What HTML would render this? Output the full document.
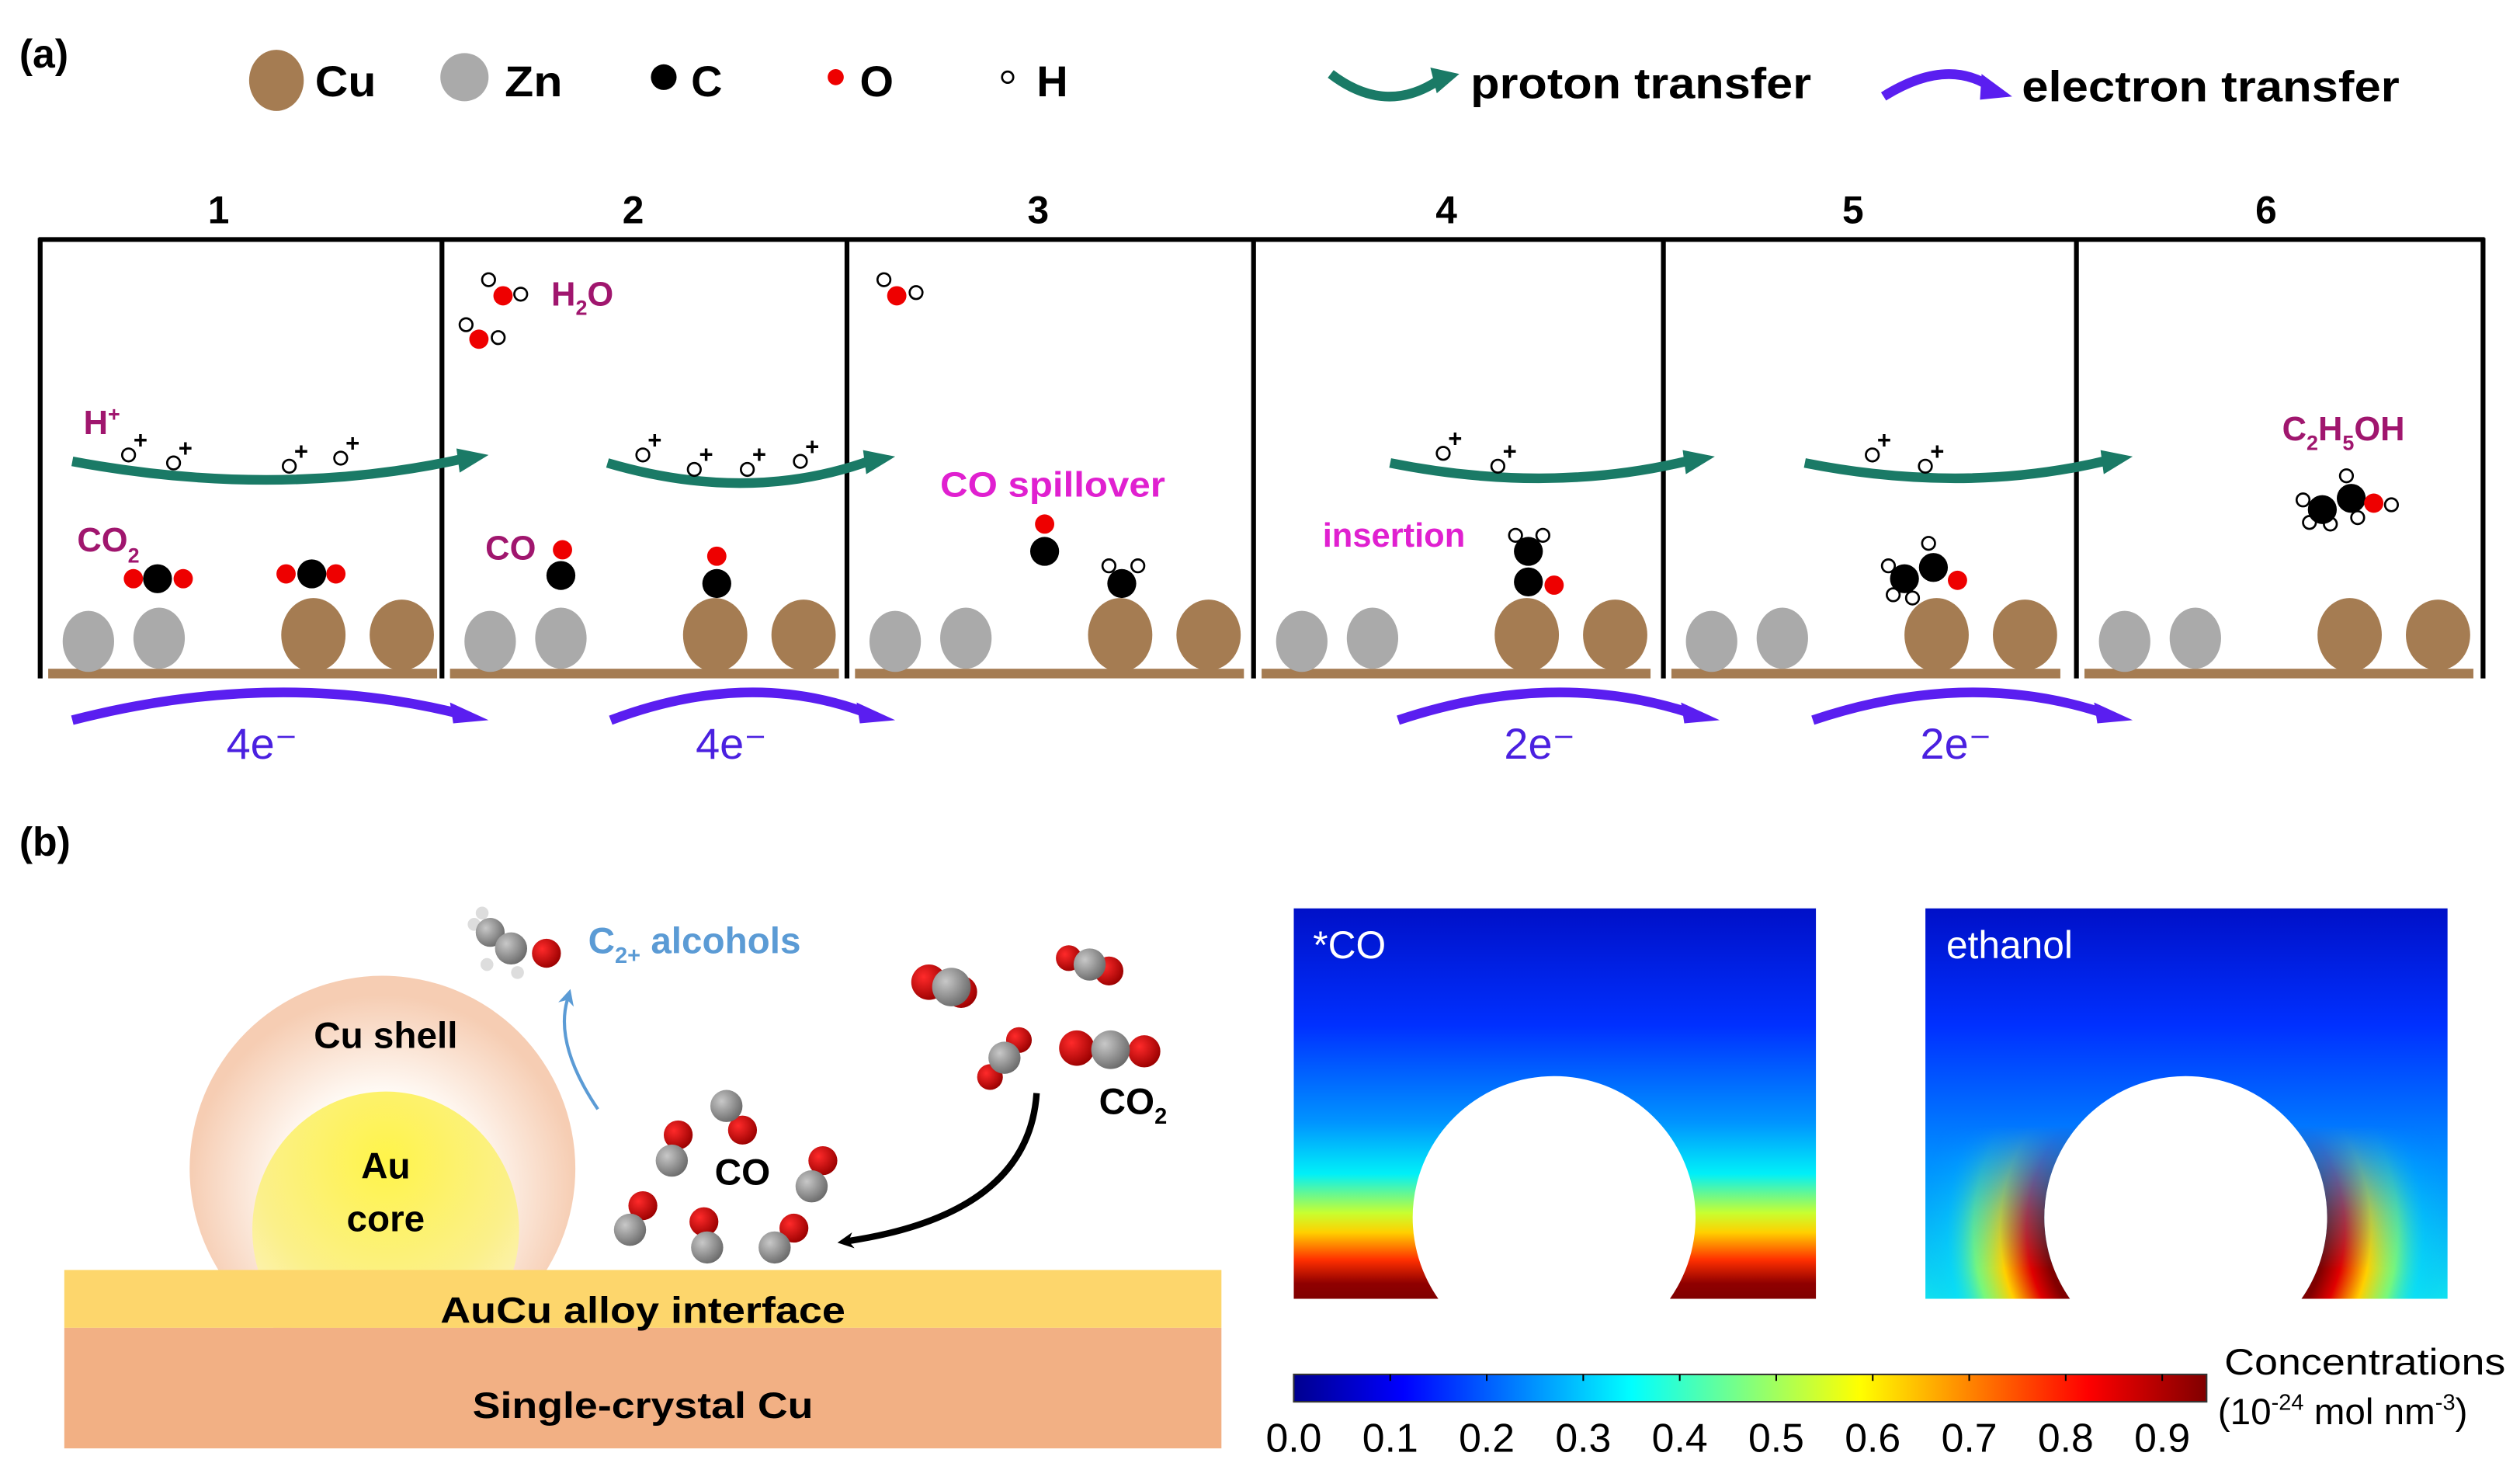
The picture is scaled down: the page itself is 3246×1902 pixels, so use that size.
<!DOCTYPE html>
<html><head><meta charset="utf-8"><style>
html,body{margin:0;padding:0;background:#fff;}
svg{display:block;}
text{font-family:"Liberation Sans",Arial,sans-serif;}
</style></head><body>
<svg id="fig" width="3246" height="1902" viewBox="0 0 1568 918.8" preserveAspectRatio="none" xmlns="http://www.w3.org/2000/svg">
<defs>
<linearGradient id="jet" x1="0" y1="0" x2="1" y2="0">
<stop offset="0" stop-color="#00008f"/><stop offset="0.12" stop-color="#0000ff"/><stop offset="0.37" stop-color="#00ffff"/><stop offset="0.62" stop-color="#ffff00"/><stop offset="0.87" stop-color="#ff0000"/><stop offset="1" stop-color="#800000"/>
</linearGradient>
<linearGradient id="coField" x1="0" y1="565" x2="0" y2="808" gradientUnits="userSpaceOnUse">
<stop offset="0" stop-color="#0010c8"/><stop offset="0.3" stop-color="#0030ff"/><stop offset="0.55" stop-color="#0095ff"/><stop offset="0.68" stop-color="#00f0f8"/><stop offset="0.78" stop-color="#c8ff30"/><stop offset="0.83" stop-color="#ffd000"/><stop offset="0.9" stop-color="#ff3000"/><stop offset="0.96" stop-color="#900000"/><stop offset="1" stop-color="#800000"/>
</linearGradient>
<linearGradient id="etField" x1="0" y1="565" x2="0" y2="808" gradientUnits="userSpaceOnUse">
<stop offset="0" stop-color="#0010c8"/><stop offset="0.3" stop-color="#0030ff"/><stop offset="0.65" stop-color="#0090ff"/><stop offset="1" stop-color="#10e0f0"/>
</linearGradient>
<radialGradient id="etRad" cx="1360" cy="765" r="165" gradientUnits="userSpaceOnUse">
<stop offset="0.53" stop-color="#800000"/><stop offset="0.6" stop-color="#e00000"/><stop offset="0.7" stop-color="#ffd000"/><stop offset="0.8" stop-color="#90ff60" stop-opacity="0.8"/><stop offset="0.9" stop-color="#00e0ff" stop-opacity="0.3"/><stop offset="1" stop-color="#00c0ff" stop-opacity="0"/>
</radialGradient>
<linearGradient id="etMaskG" x1="0" y1="700" x2="0" y2="790" gradientUnits="userSpaceOnUse">
<stop offset="0" stop-color="#000"/><stop offset="0.6" stop-color="#aaa"/><stop offset="1" stop-color="#fff"/>
</linearGradient>
<mask id="etMask"><rect x="1198" y="565" width="325" height="243" fill="url(#etMaskG)"/></mask>
<radialGradient id="shell" cx="0.5" cy="0.55" r="0.5">
<stop offset="0.5" stop-color="#fffaf5"/><stop offset="1" stop-color="#f6cdb3"/>
</radialGradient>
<radialGradient id="core" cx="0.5" cy="0.25" r="0.8">
<stop offset="0" stop-color="#fff44a"/><stop offset="0.6" stop-color="#fbf08a"/><stop offset="1" stop-color="#fdf3d0"/>
</radialGradient>
<radialGradient id="gC" cx="0.35" cy="0.35" r="0.7"><stop offset="0" stop-color="#c8c8c8"/><stop offset="1" stop-color="#6a6a6a"/></radialGradient>
<radialGradient id="gO" cx="0.35" cy="0.35" r="0.7"><stop offset="0" stop-color="#ff2a2a"/><stop offset="1" stop-color="#9a0000"/></radialGradient>
<marker id="blackHead" markerWidth="10" markerHeight="10" refX="3" refY="5" orient="auto" markerUnits="userSpaceOnUse"><path d="M0,0 L10,5 L0,10 L3,5 Z" fill="#000"/></marker>
<marker id="blueHead" markerWidth="10" markerHeight="10" refX="3" refY="5" orient="auto" markerUnits="userSpaceOnUse"><path d="M0,0 L10,5 L0,10 L3,5 Z" fill="#5b9bd5"/></marker>
<clipPath id="coClip"><path d="M805,565 H1130 V808 H1039 A88,88 0 1 0 895,808 H805 Z"/></clipPath>
<clipPath id="etClip"><path d="M1198,565 H1523 V808 H1432 A88,88 0 1 0 1288,808 H1198 Z"/></clipPath>
</defs>

<text x="12" y="42" font-size="25" font-weight="bold">(a)</text>
<g font-size="27" font-weight="bold">
<ellipse cx="172" cy="50" rx="17" ry="19" fill="#a57c52"/><text x="196" y="60" textLength="38" lengthAdjust="spacingAndGlyphs">Cu</text>
<circle cx="289" cy="48" r="15" fill="#aaaaaa"/><text x="314" y="60" textLength="36" lengthAdjust="spacingAndGlyphs">Zn</text>
<circle cx="413" cy="48" r="8" fill="#000"/><text x="430" y="60">C</text>
<circle cx="520" cy="48" r="5" fill="#e00"/><text x="535" y="60">O</text>
<circle cx="627" cy="48" r="3.5" fill="#fff" stroke="#000" stroke-width="1.3"/><text x="645" y="60">H</text>
<path d="M828,46 Q862,72 895,50" fill="none" stroke="#1a7a66" stroke-width="6"/><path d="M890,42 L908,46 L894,58 Z" fill="#1a7a66"/>
<text x="915" y="61" textLength="212" lengthAdjust="spacingAndGlyphs">proton transfer</text>
<path d="M1172,60 Q1212,35 1240,55" fill="none" stroke="#5a1ef0" stroke-width="6"/><path d="M1233,46 L1252,60 L1232,62 Z" fill="#5a1ef0"/>
<text x="1258" y="63" textLength="235" lengthAdjust="spacingAndGlyphs">electron transfer</text>
</g>
<g font-size="24" font-weight="bold" text-anchor="middle">
<text x="136" y="139">1</text><text x="394" y="139">2</text><text x="646" y="139">3</text><text x="900" y="139">4</text><text x="1153" y="139">5</text><text x="1410" y="139">6</text>
</g>
<g stroke="#000" stroke-width="3">
<line x1="24" y1="149" x2="1546" y2="149"/>
<line x1="25" y1="148" x2="25" y2="422"/><line x1="275" y1="148" x2="275" y2="422"/><line x1="527" y1="148" x2="527" y2="422"/><line x1="780" y1="148" x2="780" y2="422"/><line x1="1035" y1="148" x2="1035" y2="422"/><line x1="1292" y1="148" x2="1292" y2="422"/><line x1="1545" y1="148" x2="1545" y2="422"/>
</g>
<g id="surfaces"></g>

<g font-weight="bold">
<text x="52" y="270" font-size="21" fill="#a0166e">H<tspan font-size="13" dy="-8">+</tspan></text>
<text x="48" y="343" font-size="21" fill="#a0166e">CO<tspan font-size="13" dy="7">2</tspan></text>
<text x="343" y="190" font-size="21" fill="#a0166e">H<tspan font-size="13" dy="6">2</tspan><tspan dy="-6">O</tspan></text>
<text x="302" y="348" font-size="21" fill="#a0166e">CO</text>
<text x="585" y="309" font-size="22" fill="#e020d0" textLength="140" lengthAdjust="spacingAndGlyphs">CO spillover</text>
<text x="823" y="340" font-size="21" fill="#e020d0">insertion</text>
<text x="1420" y="274" font-size="21" fill="#a0166e">C<tspan font-size="13" dy="6">2</tspan><tspan dy="-6">H</tspan><tspan font-size="13" dy="6">5</tspan><tspan dy="-6">OH</tspan></text>
</g>
<g font-size="27" fill="#4a20e0" text-anchor="middle">
<text x="163" y="472">4e⁻</text><text x="455" y="472">4e⁻</text><text x="958" y="472">2e⁻</text><text x="1217" y="472">2e⁻</text>
</g>
<g id="molecules"></g>

<text x="12" y="532" font-size="25" font-weight="bold">(b)</text>
<circle cx="238" cy="727" r="120" fill="url(#shell)"/>
<ellipse cx="240" cy="765" rx="83" ry="86" fill="url(#core)"/>
<rect x="40" y="790" width="720" height="36" fill="#fdd66c"/>
<rect x="40" y="826" width="720" height="75" fill="#f2b084"/>
<g font-size="23" font-weight="bold" text-anchor="middle">
<text x="240" y="652">Cu shell</text><text x="240" y="733">Au</text><text x="240" y="766">core</text>
<text x="400" y="823" textLength="252" lengthAdjust="spacingAndGlyphs">AuCu alloy interface</text><text x="400" y="882" textLength="212" lengthAdjust="spacingAndGlyphs">Single-crystal Cu</text>
<text x="462" y="737">CO</text>
<text x="705" y="693">CO<tspan font-size="14" dy="6">2</tspan></text>
</g>
<text x="366" y="593" font-size="23" font-weight="bold" fill="#5b9bd5">C<tspan font-size="14" dy="6">2+</tspan><tspan dy="-6"> alcohols</tspan></text>
<path d="M372,690 Q345,650 353,622" fill="none" stroke="#5b9bd5" stroke-width="2" marker-end="url(#blueHead)"/>
<path d="M645,680 Q640,755 528,772" fill="none" stroke="#000" stroke-width="4" marker-end="url(#blackHead)"/>
<g id="molsB"></g>

<rect x="805" y="565" width="325" height="243" fill="url(#coField)" clip-path="url(#coClip)"/>
<g clip-path="url(#etClip)">
<rect x="1198" y="565" width="325" height="243" fill="url(#etField)"/>
<rect x="1198" y="565" width="325" height="243" fill="url(#etRad)" mask="url(#etMask)"/>
</g>
<text x="817" y="596" font-size="24" fill="#fff">*CO</text>
<text x="1211" y="596" font-size="24" fill="#fff">ethanol</text>
<rect x="805" y="855" width="568" height="17" fill="url(#jet)" stroke="#333" stroke-width="1"/>
<g id="cbTicks"></g>
<text x="1384" y="855" font-size="23" textLength="175" lengthAdjust="spacingAndGlyphs">Concentrations</text>
<text x="1380" y="886" font-size="23">(10<tspan font-size="14" dy="-9">-24</tspan><tspan dy="9"> mol nm</tspan><tspan font-size="14" dy="-9">-3</tspan><tspan dy="9">)</tspan></text>
</svg>
<script>
const tickValues = [0.0,0.1,0.2,0.3,0.4,0.5,0.6,0.7,0.8,0.9];
const tickLabels = ["0.0","0.1","0.2","0.3","0.4","0.5","0.6","0.7","0.8","0.9"];
const cbMin = 0.0, cbMax = 0.946;
const NS = "http://www.w3.org/2000/svg";
function mk(tag, attrs, parent){const e=document.createElementNS(NS,tag);for(const k in attrs)e.setAttribute(k,attrs[k]);parent.appendChild(e);return e;}
const cbX = v => 805 + (v - cbMin) / (cbMax - cbMin) * 568;
const cbG = document.getElementById('cbTicks');
tickValues.forEach((v,i)=>{
  const x = cbX(v);
  if(i>0){const l=mk('line',{x1:x,y1:855,x2:x,y2:859,stroke:'#000','stroke-width':1},cbG);
  
  }
  const t=mk('text',{x:x,y:903,'font-size':25,'text-anchor':'middle'},cbG);
  
  
  t.textContent=tickLabels[i];
});
const panelLeft=[25,275,527,780,1035,1292];
const sg=document.getElementById('surfaces');
panelLeft.forEach(px=>{
  mk('rect',{x:px+5,y:416,width:242,height:6,fill:'#a57c52'},sg);
  mk('ellipse',{cx:px+30,cy:399,rx:16,ry:19,fill:'#aaaaaa'},sg);
  mk('ellipse',{cx:px+74,cy:397,rx:16,ry:19,fill:'#aaaaaa'},sg);
  mk('ellipse',{cx:px+170,cy:395,rx:20,ry:23,fill:'#a57c52'},sg);
  mk('ellipse',{cx:px+225,cy:395,rx:20,ry:22,fill:'#a57c52'},sg);
});
function greenArrow(x1,x2,y,depth){
  mk('path',{d:`M${x1},${y} Q${(x1+x2)/2},${y+depth*2} ${x2-12},${y-2}`,fill:'none',stroke:'#1a7a66','stroke-width':6},sg);
  mk('path',{d:`M${x2-18},${y-8} L${x2+2},${y-4} L${x2-16},${y+7} Z`,fill:'#1a7a66'},sg);
}
function blueArrow(x1,x2,y){
  mk('path',{d:`M${x1},${y+8} Q${(x1+x2)/2},${y-25} ${x2-12},${y+5}`,fill:'none',stroke:'#5a1ef0','stroke-width':6},sg);
  mk('path',{d:`M${x2-22},${y-3} L${x2+2},${y+8} L${x2-20},${y+10} Z`,fill:'#5a1ef0'},sg);
}
greenArrow(45,302,287,12);greenArrow(378,555,288,13);greenArrow(865,1065,288,10);greenArrow(1123,1325,288,10);
blueArrow(45,302,440);blueArrow(380,555,440);blueArrow(870,1068,440);blueArrow(1128,1325,440);
const mg=document.getElementById('molecules');
const C=(x,y)=>mk('circle',{cx:x,cy:y,r:9,fill:'#000'},mg);
const O=(x,y)=>mk('circle',{cx:x,cy:y,r:6,fill:'#e00'},mg);
const H=(x,y)=>mk('circle',{cx:x,cy:y,r:4,fill:'#fff',stroke:'#000','stroke-width':1.3},mg);
function Hp(x,y){H(x,y);const t=mk('text',{x:x+3,y:y-4,'font-size':15,'font-weight':'bold'},mg);t.textContent='+';}
[[80,283],[108,288],[180,290],[212,285],[400,283],[432,292],[465,292],[498,287],[898,282],[932,290],[1165,283],[1198,290]].forEach(p=>Hp(p[0],p[1]));
O(83,360);O(114,360);C(98,360);O(178,357);O(209,357);C(194,357);
H(304,174);H(324,183);O(313,184);H(290,202);H(310,210);O(298,211);
O(350,342);C(349,358);O(446,346);C(446,363);
H(550,174);H(570,182);O(558,184);
O(650,326);C(650,343);H(690,352);H(708,352);C(698,363);
H(943,333);H(960,333);C(951,343);C(951,362);O(967,364);
H(1175,352);H(1178,370);H(1190,372);H(1200,338);C(1185,360);C(1203,353);O(1218,361);
H(1433,311);H(1437,325);H(1450,326);H(1460,296);H(1467,322);C(1445,317);C(1463,310);O(1477,313);H(1488,314);
const bg=document.getElementById('molsB');
const gc=(x,y,r)=>mk('circle',{cx:x,cy:y,r:r||10,fill:'url(#gC)'},bg);
const go=(x,y,r)=>mk('circle',{cx:x,cy:y,r:r||9,fill:'url(#gO)'},bg);
[[418,722,422,706],[452,688,462,703],[505,738,512,722],[392,765,400,750],[440,776,438,760],[482,776,494,764]].forEach(m=>{go(m[2],m[3]);gc(m[0],m[1]);});
go(578,611,11);go(598,617,10);gc(592,614,12);
go(665,596,8);go(690,604,9);gc(678,600,10);
go(634,647,8);go(616,670,8);gc(625,658,10);
go(670,652,11);go(712,654,10);gc(691,653,12);
mk('circle',{cx:295,cy:575,r:4,fill:'#ddd'},bg);mk('circle',{cx:300,cy:568,r:4,fill:'#ddd'},bg);
gc(305,580,9);gc(318,590,10);go(340,593,9);
mk('circle',{cx:303,cy:600,r:4,fill:'#ddd'},bg);mk('circle',{cx:322,cy:605,r:4,fill:'#ddd'},bg);
</script>
</body></html>
